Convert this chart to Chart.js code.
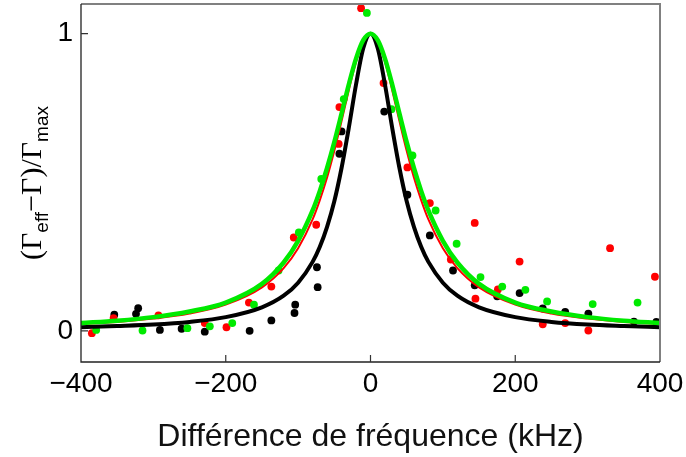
<!DOCTYPE html>
<html><head><meta charset="utf-8">
<script src="https://cdn.jsdelivr.net/npm/chart.js@4/dist/chart.umd.min.js"></script>
<style>html,body{margin:0;padding:0;background:#fff}canvas{display:block}</style>
</head><body>
<canvas id="c" width="686" height="457"></canvas>
<script>
// ---- data ----
const xTicks = [-400, -200, 0, 200, 400];
const yTicks = [0, 1];
const xTitle = 'Différence de fréquence (kHz)';

const blackX = [-354, -321, -324, -291, -261, -229, -167, -137, -105, -104, -73, -74, -43, -40, 19, 51, 82, 114, 144, 175, 206, 238, 269, 301, 364, 395];
const blackY = [0.054, 0.076, 0.057, 0.003, 0.007, -0.003, 0.000, 0.035, 0.060, 0.088, 0.147, 0.214, 0.596, 0.671, 0.738, 0.458, 0.321, 0.203, 0.153, 0.116, 0.127, 0.075, 0.064, 0.058, 0.031, 0.030];

const redX = [-385, -355, -293, -229, -199, -168, -137, -106, -75, -44, -43, -13, 18, 51, 82, 111, 144, 145, 176, 206, 238, 269, 301, 331, 393];
const redY = [-0.008, 0.043, 0.052, 0.026, 0.012, 0.095, 0.149, 0.314, 0.357, 0.629, 0.753, 1.086, 0.834, 0.550, 0.430, 0.240, 0.363, 0.108, 0.139, 0.233, 0.022, 0.026, 0.001, 0.278, 0.182];

const greenX = [-379, -315, -253, -222, -191, -161, -127, -99, -68, -37, -5, 29, 58, 90, 119, 152, 182, 214, 244, 307, 369];
const greenY = [0.003, 0.001, 0.009, 0.015, 0.026, 0.088, 0.203, 0.331, 0.511, 0.780, 1.070, 0.746, 0.590, 0.405, 0.293, 0.181, 0.149, 0.138, 0.099, 0.090, 0.095];

// fitted curves, values
const curveX     = [-400, -350, -300, -250, -200, -150, -120, -100, -80, -70, -60, -50, -40, -30, -20, -10, 0, 10, 20, 30, 40, 50, 60, 70, 80, 100, 120, 150, 200, 250, 300, 350, 400];
const blackCurve = [0.012, 0.016, 0.021, 0.030, 0.046, 0.079, 0.118, 0.162, 0.232, 0.283, 0.350, 0.436, 0.548, 0.683, 0.829, 0.951, 1.0, 0.951, 0.829, 0.683, 0.548, 0.436, 0.350, 0.283, 0.232, 0.162, 0.118, 0.079, 0.046, 0.030, 0.021, 0.016, 0.012];
const redCurve   = [0.024, 0.030, 0.041, 0.058, 0.088, 0.146, 0.211, 0.278, 0.375, 0.440, 0.516, 0.606, 0.706, 0.810, 0.906, 0.975, 1.0, 0.975, 0.906, 0.810, 0.706, 0.606, 0.516, 0.440, 0.375, 0.278, 0.211, 0.146, 0.088, 0.058, 0.041, 0.030, 0.024];
const greenCurve = [0.026, 0.034, 0.046, 0.065, 0.095, 0.158, 0.230, 0.303, 0.405, 0.471, 0.548, 0.635, 0.731, 0.829, 0.916, 0.978, 1.0, 0.978, 0.916, 0.829, 0.731, 0.635, 0.548, 0.471, 0.405, 0.303, 0.230, 0.158, 0.095, 0.065, 0.046, 0.034, 0.026];

const BLACK = '#000000', RED = '#ff0000', GREEN = '#00ea00';

const pts = (xs, ys) => xs.map((x, i) => ({x: x, y: ys[i]}));

function scatterSet(xs, ys, color, order) {
  return {data: pts(xs, ys), showLine: false, pointRadius: 3.9, pointHoverRadius: 3.9,
    pointBackgroundColor: color, pointBorderWidth: 0, borderColor: color, order: order};
}
function curveSet(ys, color, width, order) {
  return {data: pts(curveX, ys), showLine: true, pointRadius: 0, borderColor: color,
    borderWidth: width, cubicInterpolationMode: 'monotone', fill: false, order: order};
}

const sansFont = "'Liberation Sans', Arial, Helvetica, sans-serif";
const serifFont = "'Liberation Serif', 'Times New Roman', serif";

const framePlugin = {
  id: 'frame',
  afterDraw(chart) {
    const {ctx, chartArea: a, scales} = chart;
    ctx.save();
    ctx.strokeStyle = '#808080'; ctx.lineWidth = 2;
    ctx.beginPath();
    ctx.moveTo(a.left, a.top); ctx.lineTo(a.right, a.top); ctx.lineTo(a.right, a.bottom);
    ctx.stroke();
    ctx.strokeStyle = '#222'; ctx.lineWidth = 1.3;
    ctx.beginPath();
    ctx.moveTo(a.left, a.top); ctx.lineTo(a.left, a.bottom); ctx.lineTo(a.right, a.bottom);
    ctx.stroke();
    ctx.strokeStyle = '#333'; ctx.lineWidth = 1.2;
    ctx.beginPath();
    yTicks.forEach(v => { const y = scales.y.getPixelForValue(v); ctx.moveTo(a.left, y); ctx.lineTo(a.left + 7, y); });
    xTicks.slice(1, -1).forEach(v => { const x = scales.x.getPixelForValue(v); ctx.moveTo(x, a.bottom); ctx.lineTo(x, a.bottom - 7); });
    ctx.stroke();
    // y title: (Γeff−Γ)/Γmax
    const segs = [
      ['(', serifFont, 30, 0], ['Γ', serifFont, 30, 0], ['eff', sansFont, 19, 7],
      ['−', serifFont, 30, 0], ['Γ', serifFont, 30, 0], [')/', serifFont, 30, 0],
      ['Γ', serifFont, 30, 0], ['max', sansFont, 19, 7]
    ];
    let total = 0;
    segs.forEach(s => { ctx.font = s[2] + 'px ' + s[1]; s.push(ctx.measureText(s[0]).width); total += s[4]; });
    ctx.translate(41, (a.top + a.bottom) / 2);
    ctx.rotate(-Math.PI / 2);
    ctx.fillStyle = '#000'; ctx.textBaseline = 'alphabetic'; ctx.textAlign = 'left';
    let x = -total / 2;
    segs.forEach(s => { ctx.font = s[2] + 'px ' + s[1]; ctx.fillText(s[0], x, s[3]); x += s[4]; });
    ctx.restore();
  }
};

new Chart(document.getElementById('c'), {
  type: 'scatter',
  data: {
    datasets: [
      curveSet(greenCurve, GREEN, 4.5, 0),
      curveSet(redCurve, RED, 2, 1),
      curveSet(blackCurve, BLACK, 4, 2),
      scatterSet(greenX, greenY, GREEN, 3),
      scatterSet(redX, redY, RED, 4),
      scatterSet(blackX, blackY, BLACK, 5)
    ]
  },
  options: {
    responsive: false, animation: false, devicePixelRatio: 1,
    layout: {padding: {top: 4, right: 26, left: 0, bottom: 0}},
    plugins: {legend: {display: false}, tooltip: {enabled: false}},
    scales: {
      x: {
        type: 'linear', min: -400, max: 400,
        afterBuildTicks: s => { s.ticks = xTicks.map(v => ({value: v})); },
        ticks: {font: {family: sansFont, size: 28}, color: '#000', padding: 5,
          maxRotation: 0, autoSkip: false,
          callback: v => v < 0 ? '\u2212' + Math.abs(v) : String(v)},
        grid: {display: false, drawTicks: false},
        border: {display: false},
        title: {display: true, text: xTitle, color: '#111',
          font: {family: sansFont, size: 32}, padding: {top: 0, bottom: 1}},
        afterFit: s => { s.height = 95; s.paddingLeft = 0; s.paddingRight = 0; }
      },
      y: {
        min: -0.105, max: 1.1,
        afterBuildTicks: s => { s.ticks = yTicks.map(v => ({value: v})); },
        ticks: {font: {family: sansFont, size: 28}, color: '#000', padding: 8},
        grid: {display: false, drawTicks: false},
        border: {display: false},
        afterFit: s => { s.width = 81; s.paddingTop = 0; s.paddingBottom = 0; }
      }
    }
  },
  plugins: [framePlugin]
});
</script></body></html>
